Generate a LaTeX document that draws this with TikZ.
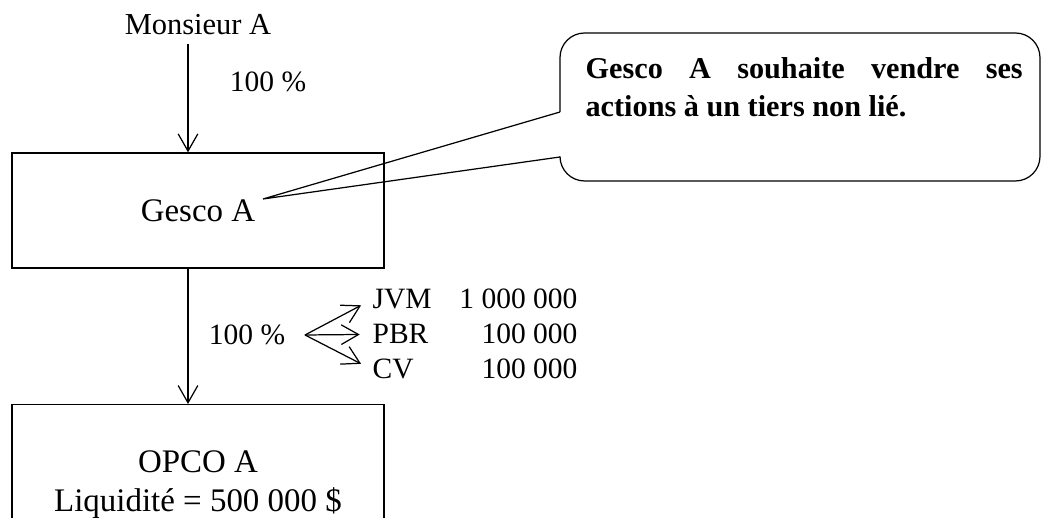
\documentclass[tikz,border=0pt]{standalone}
\usepackage{fontspec}
\setmainfont{Liberation Serif}
\usetikzlibrary{arrows.meta}

\begin{document}
\begin{tikzpicture}[x=0.0143cm,y=-0.0143cm,line width=0.5pt,
    >={Straight Barb[length=7pt,width=8pt]},
    every node/.style={font=\fontsize{12}{15.5}\selectfont},
    box/.style={draw,minimum width=5.32cm,font=\fontsize{13.4}{15.5}\selectfont},
    val/.style={inner sep=0pt}]
  \useasboundingbox (0,0) rectangle (1043,518);
  \clip (0,0) rectangle (1043,518);
  % holding chain
  \node[anchor=base,font=\fontsize{12.4}{15.5}\selectfont] (monsieur) at (198,35) {Monsieur A};
  \node[box,minimum height=1.645cm] (gesco) at (198,210.5) {Gesco A};
  \node[box,minimum height=2.288cm,anchor=north,align=center] (opco) at (198,404)
    {OPCO A\\Liquidité = 500~000~\$};
  \coordinate (m1) at (188,0);
  \draw[->] (m1 |- monsieur.south) -- (m1 |- gesco.north);
  \draw[->] (m1 |- gesco.south) -- (m1 |- opco.north);
  \node[anchor=base] (pcta) at (268,92) {100~\%};
  \node[anchor=base] (pctb) at (247,345) {100~\%};
  % values of the shares
  \coordinate (fan) at (305,335);
  \node[val,anchor=base west] (jvm) at (372,309) {JVM};
  \node[val,anchor=base west] (pbr) at (372,344) {PBR};
  \node[val,anchor=base west] (cv) at (372,379) {CV};
  \node[val,anchor=base east] (jvmv) at (578,309) {1~000~000};
  \node[val,anchor=base east] (pbrv) at (578,344) {100~000};
  \node[val,anchor=base east] (cvv) at (578,379) {100~000};
  \foreach \n in {jvm,pbr,cv}
    \draw[->,shorten >=5pt] (fan) -- (\n.west);
  % callout
  \node[anchor=north west,inner sep=0pt,text width=6.25cm,align=justify,
    font=\fontsize{12.3}{15.5}\selectfont\bfseries] (note) at (585,57)
    {Gesco A souhaite vendre ses\linebreak actions à un tiers non lié.};
  \coordinate (tip) at (263,199);
  \draw[rounded corners=10pt] (560,112) |- (1040,33) |- (560,181) -- (560,157);
  \draw (560,112) -- (tip) -- (560,157);
\end{tikzpicture}
\end{document}
